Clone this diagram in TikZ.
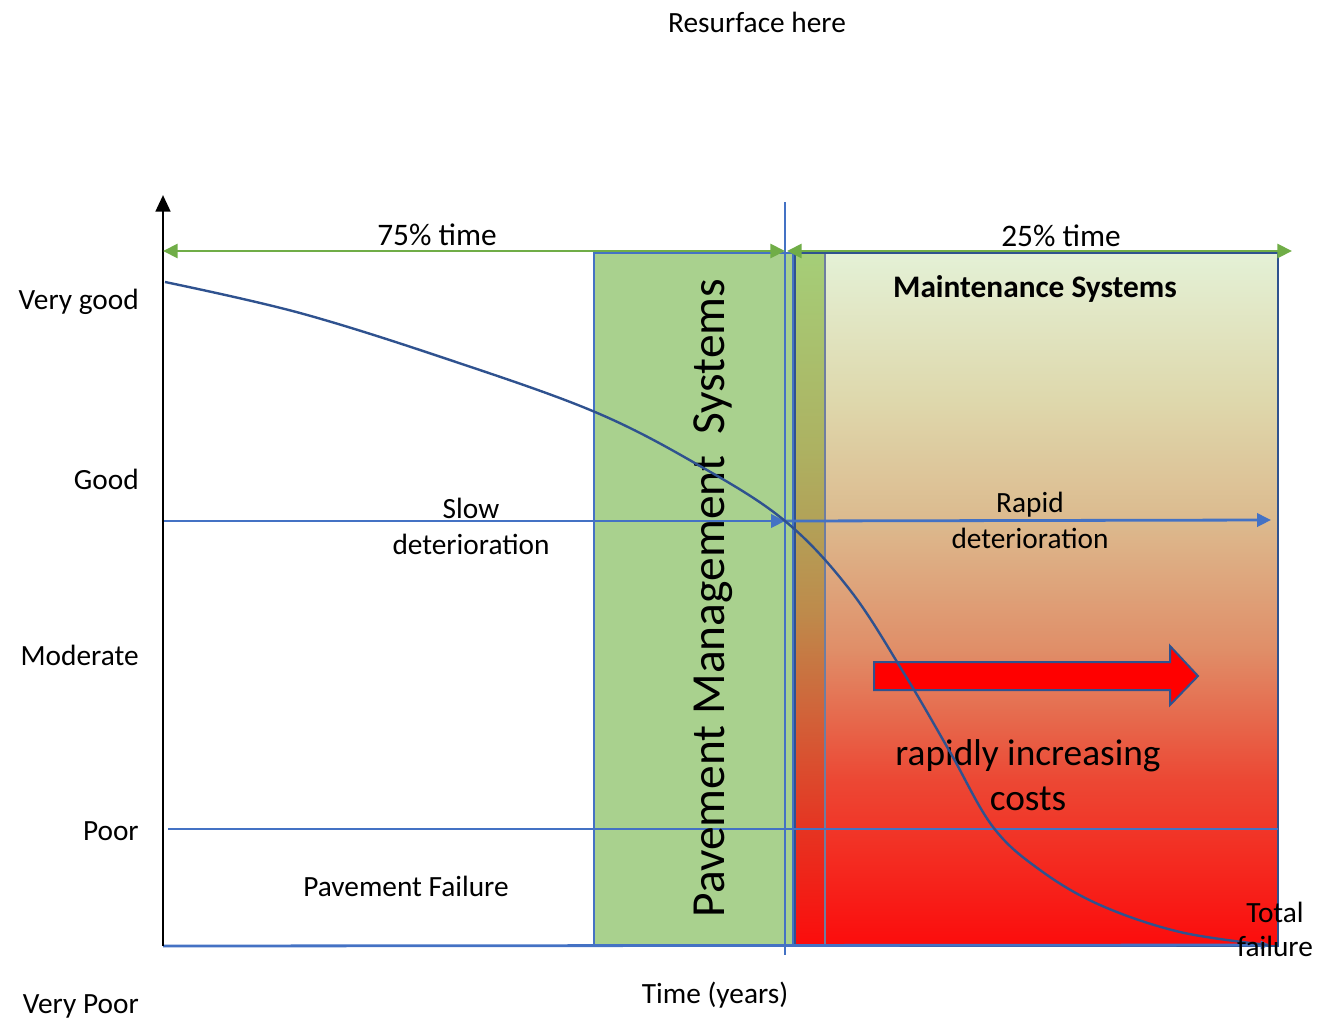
\documentclass[tikz,border=0pt]{standalone}
\usepackage{fontspec}
\setmainfont{Carlito}
\usetikzlibrary{arrows.meta}
\definecolor{lineblue}{RGB}{68,114,196}
\definecolor{darkblue}{RGB}{47,82,143}
\definecolor{arrgreen}{RGB}{112,173,71}
\definecolor{pmsgreen}{RGB}{169,209,142}
\definecolor{stripedge}{RGB}{110,125,160}
\pgfdeclareverticalshading{maintshade}{100bp}{%
 rgb(0bp)=(0.988,0.047,0.047);
 rgb(25bp)=(0.988,0.047,0.047);
 rgb(37bp)=(0.925,0.282,0.204);
 rgb(46.4bp)=(0.878,0.557,0.408);
 rgb(55.7bp)=(0.863,0.729,0.557);
 rgb(64.4bp)=(0.871,0.847,0.675);
 rgb(75bp)=(0.894,0.945,0.839);
 rgb(100bp)=(0.894,0.945,0.839)}
\pgfdeclareverticalshading{stripshade}{100bp}{%
 rgb(0bp)=(0.988,0.047,0.047);
 rgb(25bp)=(0.988,0.047,0.047);
 rgb(34bp)=(0.894,0.216,0.137);
 rgb(42bp)=(0.816,0.392,0.227);
 rgb(49bp)=(0.745,0.541,0.294);
 rgb(55.7bp)=(0.698,0.635,0.345);
 rgb(61bp)=(0.678,0.698,0.384);
 rgb(75bp)=(0.647,0.808,0.471);
 rgb(100bp)=(0.647,0.808,0.471)}
\tikzset{
 lbl/.style={font=\fontsize{22}{26}\selectfont, inner sep=0pt},
 ylbl/.style={lbl, anchor=east},
 timelbl/.style={font=\fontsize{23.5}{28}\selectfont, inner sep=0pt},
 bluearrow/.style={draw=lineblue, line width=2.1pt, -{Triangle[length=10.5pt,width=10pt]}},
 greenarrow/.style={draw=arrgreen, line width=2.1pt, {Triangle[length=11pt,width=10.5pt]}-{Triangle[length=11pt,width=10.5pt]}},
 thinblue/.style={draw=lineblue, line width=0.8pt},
}
\begin{document}
\begin{tikzpicture}[x=0.75pt,y=-0.75pt]
\useasboundingbox (0,0) rectangle (1334,1021);
% boxes
\fill[pmsgreen] (594,253) rectangle (793,946);
\draw[lineblue, line width=1.5pt] (594,946) -- (594,253) -- (793,253) -- (793,946);
\path[shading=maintshade] (795,253) rectangle (1278,946);
\path[shading=stripshade] (795,253) rectangle (825,946);
\draw[stripedge, line width=1.1pt] (825,253) -- (825,946);
\draw[darkblue, line width=2.1pt] (795,253) rectangle (1278,946);
% reference lines
\coordinate (poorL) at (168,829);
\coordinate (poorR) at (1278,829);
\draw[thinblue] (poorL) -- (poorR);
\coordinate (vtop) at (785,202);
\coordinate (vbot) at (785,955);
\draw[thinblue] (vtop) -- (vbot);
% x axis
\coordinate (xL) at (163,946);
\coordinate (xR) at (1270,945);
\draw[lineblue, line width=2.1pt, -{Triangle[length=7pt,width=6pt]}] (xL) -- (xR);
% deterioration arrows
\coordinate (sL) at (163,521);
\coordinate (sM) at (785,521);
\coordinate (sR) at (1271,520);
\draw[bluearrow] (sL) -- (sM);
\draw[bluearrow] (sM) -- (sR);
% PMS text
\node[rotate=90, font=\fontsize{35.6}{40}\selectfont, inner sep=0pt] (pms) at (713,598) {Pavement Management~~Systems};
% red arrow
\draw[fill=red, draw=darkblue, line width=1.5pt] (874,662) -- (1170,662) -- (1170,646) -- (1198,676) -- (1170,705) -- (1170,690) -- (874,690) -- cycle;
% texts in red zone
\node[font=\fontsize{28}{34}\selectfont, align=center, inner sep=0pt] (cost) at (1028,775) {rapidly increasing\\costs};
% curve
\draw[darkblue, line width=1.8pt] plot[smooth, tension=0.6] coordinates {(165,282) (300,313) (450,360) (595,412) (700,466) (785,521) (850,590) (905,675) (950,752) (993,827) (1040,870) (1100,905) (1180,932) (1268,945)};
% y axis
\coordinate (yB) at (163,946);
\coordinate (yT) at (163,195);
\draw[black, line width=2.1pt, -{Triangle[length=12.5pt,width=11pt]}] (yB) -- (yT);
% time arrows
\coordinate (gL) at (163,251);
\coordinate (gM) at (785,251);
\coordinate (gM2) at (787,251);
\coordinate (gR) at (1292,251);
\draw[greenarrow] (gL) -- (gM);
\draw[greenarrow] (gM2) -- (gR);
\node[timelbl] (t75) at (437,235) {75\% time};
\node[timelbl] (t25) at (1061,236) {25\% time};
% labels
\node[lbl] (resurf) at (757,22) {Resurface here};
\node[font=\bfseries\fontsize{23.5}{28}\selectfont, inner sep=0pt] (maint) at (1035,289) {Maintenance Systems};
\node[lbl, align=center, font=\fontsize{22}{27}\selectfont] (slow) at (471,526) {Slow\\deterioration};
\node[lbl, align=center, font=\fontsize{22}{27}\selectfont] (rapid) at (1030,520) {Rapid\\deterioration};
\node[lbl] (pfail) at (406,886) {Pavement Failure};
\node[lbl] (time) at (715,995) {Time (years)};
\node[lbl, align=center, font=\fontsize{22}{25.5}\selectfont] (total) at (1275,929) {Total\\failure};
\node[ylbl] (vg) at (139,302) {Very good};
\node[ylbl] (g) at (139,479) {Good};
\node[ylbl] (m) at (139,655) {Moderate};
\node[ylbl] (p) at (139,831) {Poor};
\node[ylbl] (vp) at (139,1006) {Very Poor};
\end{tikzpicture}
\end{document}
